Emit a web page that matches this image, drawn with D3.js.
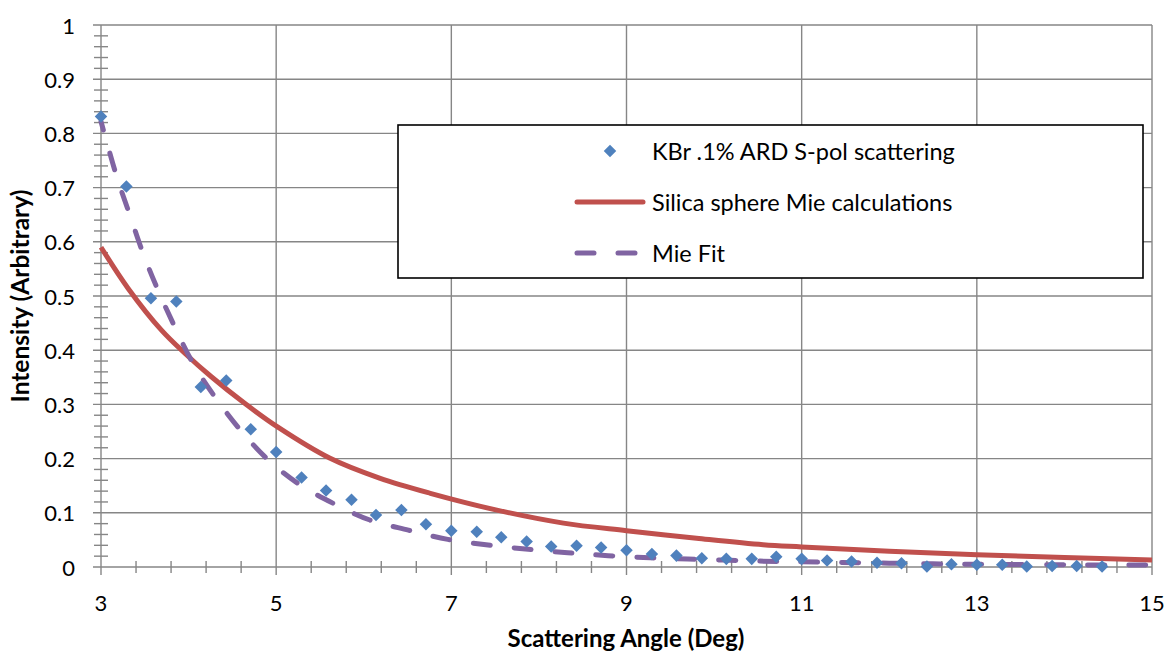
<!DOCTYPE html>
<html>
<head>
<meta charset="utf-8">
<script src="https://cdn.jsdelivr.net/npm/d3@7"></script>
<style>
  html, body { margin: 0; padding: 0; background: #fff; }
  svg { display: block; font-family: Lato, "Open Sans", sans-serif; }
</style>
</head>
<body>
<svg id="chart" width="1165" height="654"></svg>
<script>
// Measured KBr scattering (S-pol), scattering angle in degrees
const measuredAngle = [3.00, 3.29, 3.57, 3.86, 4.14, 4.43, 4.71, 5.00, 5.29, 5.57,
  5.86, 6.14, 6.43, 6.71, 7.00, 7.29, 7.57, 7.86, 8.14, 8.43,
  8.71, 9.00, 9.29, 9.57, 9.86, 10.14, 10.43, 10.71, 11.00, 11.29,
  11.57, 11.86, 12.14, 12.43, 12.71, 13.00, 13.29, 13.57, 13.86, 14.14, 14.43];
const measuredIntensity = [0.831, 0.702, 0.496, 0.490, 0.332, 0.344, 0.254, 0.212, 0.165, 0.141,
  0.124, 0.096, 0.105, 0.079, 0.067, 0.065, 0.055, 0.047, 0.038, 0.039,
  0.036, 0.031, 0.024, 0.021, 0.016, 0.015, 0.015, 0.019, 0.015, 0.012,
  0.010, 0.008, 0.007, 0.001, 0.005, 0.004, 0.004, 0.001, 0.002, 0.002, 0.001];

// Mie calculation for silica spheres
const mieAngle = [3.00, 3.31, 3.69, 3.96, 4.26, 4.64, 5.02, 5.61, 6.18, 6.76,
  7.52, 8.28, 9.00, 9.80, 10.56, 11.00, 12.00, 13.00, 14.00, 15.00];
const mieIntensity = [0.590, 0.514, 0.437, 0.394, 0.351, 0.302, 0.258, 0.201, 0.164, 0.136,
  0.105, 0.081, 0.067, 0.053, 0.041, 0.037, 0.029, 0.0225, 0.0175, 0.013];

// Fitted Mie curve
const fitAngle = [3.00, 3.05, 3.18, 3.33, 3.48, 3.65, 3.86, 4.05, 4.30, 4.59,
  4.89, 5.25, 5.65, 6.07, 6.51, 6.96, 7.42, 7.88, 8.33, 8.79,
  9.27, 9.70, 10.50, 11.00, 12.00, 13.00, 14.00, 15.00];
const fitIntensity = [0.822, 0.793, 0.720, 0.649, 0.579, 0.511, 0.437, 0.376, 0.314, 0.253,
  0.2006, 0.154, 0.1175, 0.0867, 0.068, 0.051, 0.0406, 0.0326, 0.0264, 0.0209,
  0.017, 0.0148, 0.011, 0.0095, 0.007, 0.005, 0.004, 0.0035];

const xTicks = [3, 5, 7, 9, 11, 13, 15];
const yTicks = [0, 0.1, 0.2, 0.3, 0.4, 0.5, 0.6, 0.7, 0.8, 0.9, 1];
const seriesNames = ["KBr .1% ARD S-pol scattering", "Silica sphere Mie calculations", "Mie Fit"];

const BLUE = "#4F81BD", RED = "#C0504D", PURPLE = "#8064A2", GRID = "#868686";

const svg = d3.select("#chart");
const x = d3.scaleLinear().domain([3, 15]).range([101, 1152]);
const y = d3.scaleLinear().domain([0, 1]).range([567, 25]);

// Gridlines
const grid = svg.append("g");
grid.selectAll("line.v").data(xTicks).join("line")
  .attr("x1", d => x(d)).attr("x2", d => x(d))
  .attr("y1", y(1)).attr("y2", y(0) + 8)
  .attr("stroke", GRID).attr("stroke-width", 1.4);
grid.selectAll("line.h").data(yTicks).join("line")
  .attr("x1", x(3) - 8).attr("x2", x(15))
  .attr("y1", d => y(d)).attr("y2", d => y(d))
  .attr("stroke", GRID).attr("stroke-width", 1.4);

// Minor ticks crossing the axes
const yMinor = d3.range(0, 50).map(i => i * 0.02).filter((d, i) => i % 5 !== 0);
grid.selectAll("line.ym").data(yMinor).join("line")
  .attr("x1", x(3) - 7).attr("x2", x(3) + 7)
  .attr("y1", d => y(d)).attr("y2", d => y(d))
  .attr("stroke", GRID).attr("stroke-width", 1.4);
const xMinor = d3.range(0, 31).map(i => 3 + i * 0.4).filter((d, i) => i % 5 !== 0);
grid.selectAll("line.xm").data(xMinor).join("line")
  .attr("x1", d => x(d)).attr("x2", d => x(d))
  .attr("y1", y(0) - 6).attr("y2", y(0) + 6)
  .attr("stroke", GRID).attr("stroke-width", 1.4);

// Tick labels
svg.append("g").selectAll("text").data(yTicks).join("text")
  .attr("x", 75).attr("y", d => y(d))
  .attr("text-anchor", "end").attr("dominant-baseline", "central")
  .attr("font-size", 22).attr("fill", "#000")
  .text(d => d3.format("~g")(d));
svg.append("g").selectAll("text").data(xTicks).join("text")
  .attr("x", d => x(d)).attr("y", 602)
  .attr("text-anchor", "middle").attr("dominant-baseline", "central")
  .attr("font-size", 22).attr("fill", "#000")
  .text(d => d);

// Axis titles
svg.append("text")
  .attr("x", 626).attr("y", 647)
  .attr("text-anchor", "middle").attr("font-weight", "bold").attr("font-size", 24)
  .text("Scattering Angle (Deg)");
svg.append("text")
  .attr("transform", "translate(29,296) rotate(-90)")
  .attr("text-anchor", "middle").attr("font-weight", "bold").attr("font-size", 24.5)
  .text("Intensity (Arbitrary)");

// Series
const smooth = d3.line().x(d => x(d[0])).y(d => y(d[1])).curve(d3.curveCatmullRom.alpha(0.5));
const plot = svg.append("g");
plot.append("path")
  .datum(d3.zip(mieAngle, mieIntensity))
  .attr("d", smooth).attr("fill", "none")
  .attr("stroke", RED).attr("stroke-width", 5).attr("stroke-linejoin", "round");
plot.append("path")
  .datum(d3.zip(fitAngle, fitIntensity))
  .attr("d", smooth).attr("fill", "none")
  .attr("stroke", PURPLE).attr("stroke-width", 5)
  .attr("stroke-linecap", "round").attr("stroke-dasharray", "17,24").attr("stroke-dashoffset", 8);

const diamond = d3.symbol().type(d3.symbolDiamond2).size(100);
plot.selectAll("path.pt").data(d3.zip(measuredAngle, measuredIntensity)).join("path")
  .attr("transform", d => `translate(${x(d[0])},${y(d[1])})`)
  .attr("d", diamond).attr("fill", BLUE);

// Legend
const legend = svg.append("g");
legend.append("rect")
  .attr("x", 398).attr("y", 125).attr("width", 745).attr("height", 153)
  .attr("fill", "#fff").attr("stroke", "#000").attr("stroke-width", 1.6);
const rowY = [151, 202, 253];
legend.append("path")
  .attr("transform", `translate(610,${rowY[0]})`)
  .attr("d", diamond).attr("fill", BLUE);
legend.append("line")
  .attr("x1", 577).attr("x2", 643).attr("y1", rowY[1]).attr("y2", rowY[1])
  .attr("stroke", RED).attr("stroke-width", 5).attr("stroke-linecap", "round");
legend.append("line")
  .attr("x1", 577).attr("x2", 643).attr("y1", rowY[2]).attr("y2", rowY[2])
  .attr("stroke", PURPLE).attr("stroke-width", 5)
  .attr("stroke-linecap", "round").attr("stroke-dasharray", "17,24");
legend.selectAll("text").data(seriesNames).join("text")
  .attr("x", 652).attr("y", (d, i) => rowY[i])
  .attr("dominant-baseline", "central").attr("font-size", 23.5)
  .text(d => d);
</script>
</body>
</html>
